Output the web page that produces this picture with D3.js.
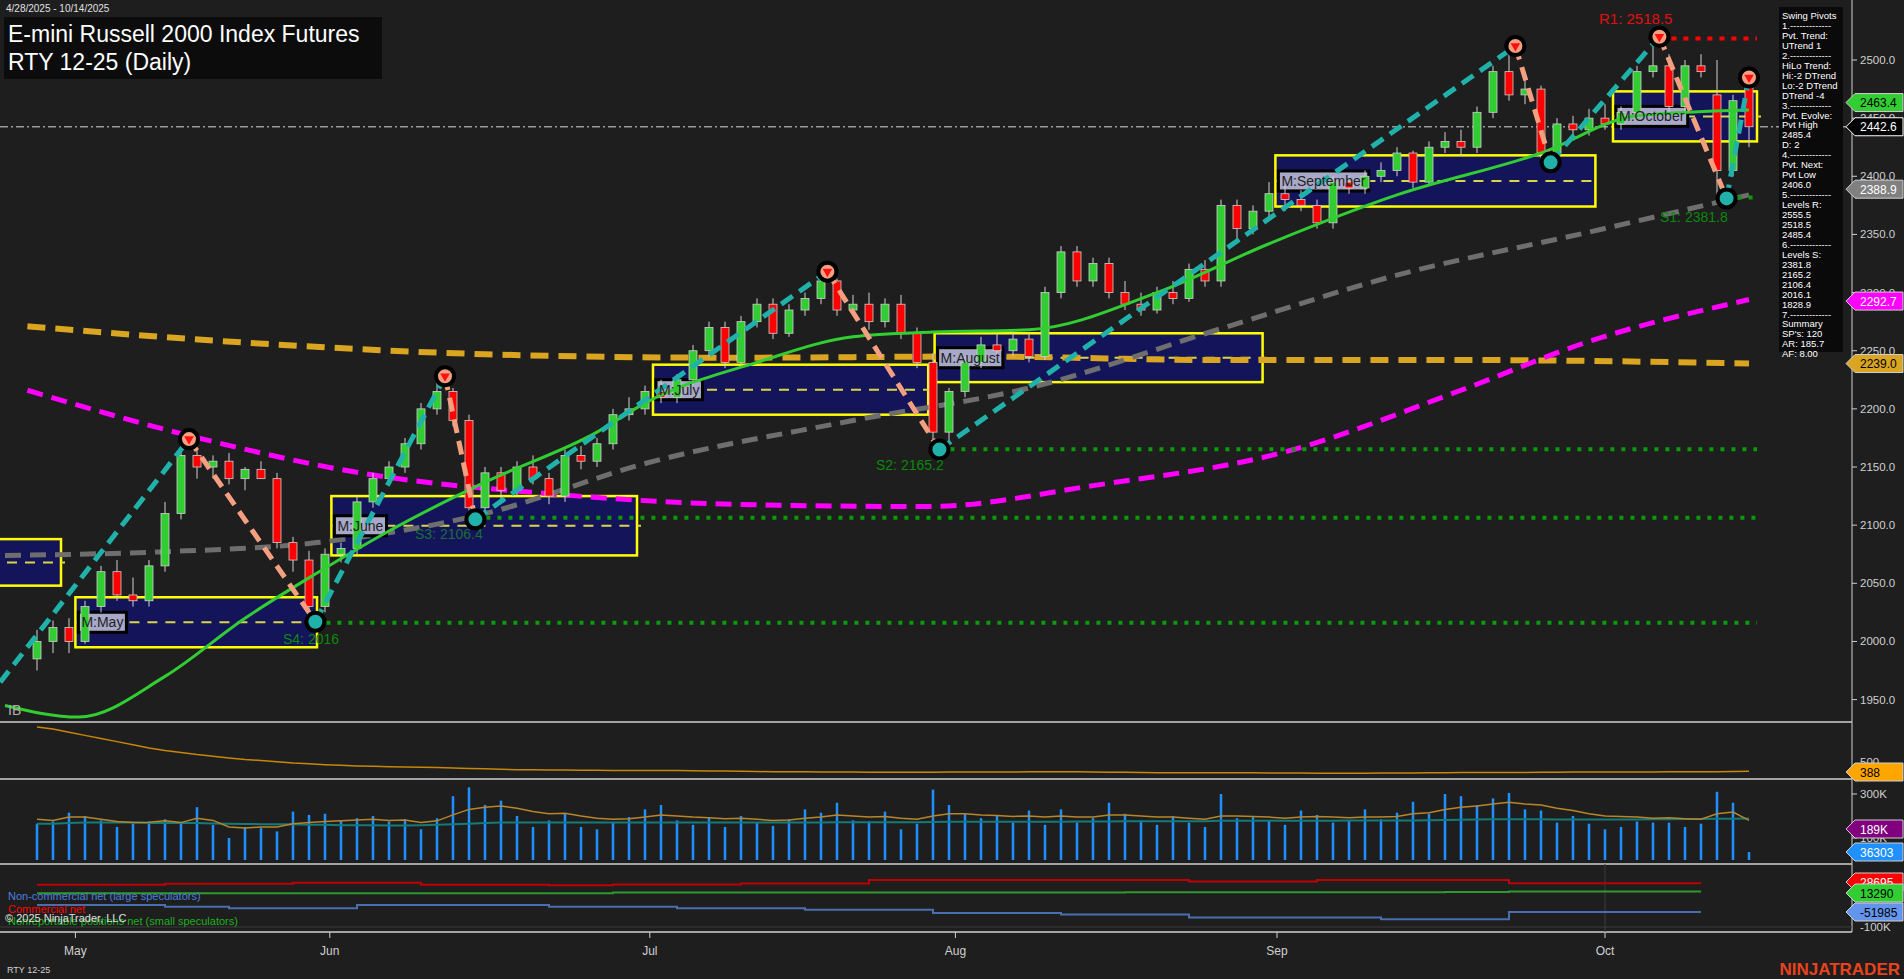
<!DOCTYPE html>
<html><head><meta charset="utf-8">
<script src="https://cdn.jsdelivr.net/npm/d3@7/dist/d3.min.js"></script>
<style>body{margin:0;background:#1e1e1e;overflow:hidden}svg{display:block}text{font-family:Arial,"Liberation Sans",sans-serif}</style>
</head><body><svg id="c" width="1904" height="979"></svg>
<script>
// ---------- DATA ----------
const opens =[1985,2000,2012,2000,2030,2060,2040,2035,2065,2110,2160,2150,2155,2140,2148,2140,2085,2070,2030,2075,2080,2120,2140,2150,2170,2200,2215,2190,2115,2145,2130,2150,2140,2125,2160,2155,2170,2195,2200,2215,2210,2225,2250,2270,2240,2275,2290,2265,2285,2295,2310,2285,2290,2275,2290,2265,2240,2180,2215,2240,2255,2250,2260,2245,2300,2335,2310,2325,2300,2290,2285,2300,2295,2320,2310,2375,2355,2370,2385,2380,2375,2360,2395,2390,2400,2405,2420,2395,2425,2430,2425,2455,2490,2470,2475,2420,2445,2440,2450,2445,2455,2490,2495,2460,2495,2470,2405,2485];
const highs =[2010,2018,2020,2035,2065,2070,2055,2070,2120,2174,2165,2160,2162,2150,2155,2145,2090,2078,2080,2085,2125,2145,2155,2175,2205,2228,2218,2195,2150,2150,2155,2160,2145,2165,2168,2175,2200,2210,2220,2225,2230,2255,2275,2275,2280,2295,2295,2290,2300,2318,2312,2298,2300,2295,2298,2270,2248,2218,2245,2262,2265,2268,2265,2305,2340,2340,2330,2330,2310,2300,2305,2310,2325,2328,2380,2380,2375,2395,2392,2388,2380,2400,2400,2405,2412,2425,2422,2430,2438,2440,2460,2495,2512,2488,2478,2450,2452,2458,2462,2460,2495,2520,2505,2500,2505,2500,2470,2485];
const lows  =[1975,1990,1990,1998,2025,2035,2030,2030,2060,2105,2140,2140,2135,2130,2140,2080,2060,2017,2025,2068,2075,2115,2135,2145,2165,2195,2185,2105,2110,2120,2125,2135,2118,2120,2148,2150,2165,2190,2195,2205,2205,2220,2245,2235,2238,2270,2260,2262,2280,2290,2280,2280,2268,2270,2260,2235,2165,2170,2210,2235,2245,2245,2240,2242,2295,2305,2305,2295,2285,2280,2282,2290,2292,2305,2305,2345,2350,2365,2370,2370,2355,2355,2385,2385,2395,2400,2390,2392,2420,2418,2420,2450,2465,2462,2412,2415,2432,2435,2440,2440,2450,2485,2455,2455,2485,2381,2400,2425];
const closes=[2000,2012,2000,2030,2060,2040,2035,2065,2110,2160,2150,2155,2140,2148,2140,2085,2070,2030,2075,2080,2120,2140,2150,2170,2200,2215,2190,2115,2145,2130,2150,2140,2125,2160,2155,2170,2195,2200,2215,2210,2225,2250,2270,2240,2275,2290,2265,2285,2295,2310,2285,2290,2275,2290,2265,2240,2180,2215,2240,2255,2250,2260,2245,2300,2335,2310,2325,2300,2290,2285,2300,2295,2320,2310,2375,2355,2370,2385,2380,2375,2360,2395,2390,2400,2405,2420,2395,2425,2430,2425,2455,2490,2470,2475,2420,2445,2440,2450,2445,2455,2490,2495,2460,2495,2490,2405,2465,2442.6];
const volumes=[165,175,215,200,180,150,165,175,185,170,240,160,100,150,145,130,220,205,210,180,190,200,175,185,140,190,290,330,250,270,200,150,180,210,150,140,170,195,230,250,180,160,195,150,200,170,155,185,230,215,260,180,175,220,140,165,320,250,210,190,200,170,225,160,230,170,190,260,210,180,160,200,170,150,300,190,195,180,160,225,205,170,180,230,185,215,265,210,300,290,250,280,305,230,225,170,200,165,140,150,175,170,170,150,165,310,260,36];
const volAvg=[185,180,195,195,185,175,170,172,178,170,190,180,150,145,150,150,165,170,175,178,182,185,180,182,170,178,205,230,240,245,235,220,210,212,200,190,185,188,195,205,200,195,192,188,190,185,180,182,190,195,205,200,195,198,190,185,200,210,210,205,202,198,200,195,200,195,195,205,205,200,195,195,190,185,200,200,198,195,190,195,198,195,192,195,195,198,210,215,230,240,245,255,262,255,250,235,225,210,200,198,195,190,192,188,185,210,218,180];
const volLong=[165,165,168,170,170,170,170,168,168,168,168,166,165,164,163,162,162,160,160,158,158,158,157,157,158,160,162,165,168,170,171,171,171,171,171,171,170,170,170,170,170,170,170,170,170,170,170,170,170,170,172,172,172,172,172,172,173,174,174,174,174,174,174,174,174,175,175,175,176,176,176,176,176,176,178,178,178,178,178,178,178,178,179,180,180,180,180,181,182,183,184,185,185,185,185,184,184,184,184,184,184,185,185,186,186,187,188,189];
const atr=[600,590,575,560,545,530,515,500,488,478,468,460,452,445,440,434,428,424,420,417,414,412,410,409,408,406,404,402,400,398,396,395,394,394,393,393,392,392,392,392,392,391,390,389,388,387,386,386,386,385,385,385,384,384,384,384,384,385,385,385,385,385,386,386,386,386,385,384,383,382,381,381,381,381,381,381,381,380,380,380,379,379,379,379,380,380,380,381,381,382,382,382,382,382,383,384,385,385,385,385,385,385,386,386,386,386,387,388];
const cotIdx=[0,4,8,12,16,20,24,28,32,36,40,44,48,52,56,60,64,68,72,76,80,84,88,92,96,100,104];
const cotComm=[35,35,38,38,41,41,35,35,33,36,36,39,39,50,50,50,50,50,45,45,50,50,50,40,40,40,40];
const cotLarge=[-30,-30,-35,-40,-40,-30,-30,-30,-35,-35,-40,-40,-45,-45,-55,-55,-60,-60,-70,-70,-70,-75,-75,-52,-52,-52,-52];
const cotSmall=[8,8,8,8,8,8,8,8,8,10,10,10,10,10,10,10,10,11,11,11,11,11,12,13,13,13,13];
const maGreen=[[-2,1945],[2.6,1935],[8,1970],[13,2020],[17.4,2058],[22,2095],[28,2137],[35,2180],[38,2205],[45,2240],[51,2262],[56,2266],[62,2268],[70,2300],[77,2342],[85,2384],[94,2420],[100,2452],[107,2457]];
const maGray=[[-2,2074],[7.6,2077],[17.5,2085],[28,2110],[38,2153],[51,2190],[62,2218],[74,2269],[85,2315],[97,2352],[107,2384]];
const maMag=[[-0.6,2216],[9.5,2177],[20.6,2144],[32,2127],[43.4,2118],[55.7,2116],[66,2134],[78,2163],[89,2216],[97,2258],[107,2294]];
const maOrange=[[-0.6,2271],[13,2257],[28,2247],[43.4,2244],[58.7,2245],[74,2242],[89,2242],[107,2239]];
const pivots=[[-2.3,1965],[9.5,2174],[17.4,2017],[25.5,2228],[27.4,2105],[49.4,2318],[56.4,2165],[92.4,2512],[94.6,2412],[101.4,2520],[105.6,2381],[107,2485]];
const boxes=[{n:"",a:-3,b:1.5,lo:2048,hi:2088},{n:"M:May",a:2.4,b:17.5,lo:1995,hi:2038},{n:"M:June",a:18.4,b:37.5,lo:2074,hi:2125},{n:"M:July",a:38.5,b:55.7,lo:2195,hi:2238},{n:"M:August",a:56.1,b:76.6,lo:2223,hi:2265},{n:"M:September",a:77.4,b:97.4,lo:2374,hi:2418},{n:"M:October",a:98.5,b:107.5,lo:2430,hi:2473}];
const levels=[{t:"S4: 2016",v:2016.1,a:17.4,lx:283,ly:644,c:"#0a8a0a"},{t:"S3: 2106.4",v:2106.4,a:27.4,lx:415,ly:539,c:"#1a6e3a"},{t:"S2: 2165.2",v:2165.2,a:56.4,lx:876,ly:470,c:"#0a8a0a"},{t:"S1: 2381.8",v:2381.8,a:105.6,lx:1660,ly:222,c:"#0a8a0a"}];
const monthLabels=["May","Jun","Jul","Aug","Sep","Oct"];
const monthIdx=[2.4,18.3,38.3,57.4,77.5,98];
const priceTicks=[1950,2000,2050,2100,2150,2200,2250,2300,2350,2400,2450,2500];
const infoLines=["Swing Pivots","1.-------------","Pvt. Trend:","UTrend 1","2.-------------","HiLo Trend:","Hi:-2 DTrend","Lo:-2 DTrend","DTrend -4","3.-------------","Pvt. Evolve:","Pvt High","2485.4","D: 2","4.-------------","Pvt. Next:","Pvt Low","2406.0","5.-------------","Levels R:","2555.5","2518.5","2485.4","6.-------------","Levels S:","2381.8","2165.2","2106.4","2016.1","1828.9","7.-------------","Summary","SP's: 120","AR: 185.7","AF: 8.00"];
const priceTags=[{v:2463.4,t:"2463.4",bg:"#32cd32",fg:"#000"},{v:2442.6,t:"2442.6",bg:"#000",fg:"#fff",st:"#fff"},{v:2388.9,t:"2388.9",bg:"#808080",fg:"#fff"},{v:2292.7,t:"2292.7",bg:"#ff00ff",fg:"#fff"},{v:2239.0,t:"2239.0",bg:"#daa520",fg:"#000"}];

// ---------- SCALES ----------
const svg=d3.select("#c");
const N=closes.length;
const AX=1852;
const x=d3.scaleLinear().domain([0,N-1]).range([37,1749]);
const y=d3.scaleLinear().domain([1950,2500]).range([699.6,60]);
svg.append("rect").attr("width",1904).attr("height",979).attr("fill","#1e1e1e");
svg.append("clipPath").attr("id","cm").append("rect").attr("x",0).attr("y",0).attr("width",AX).attr("height",722);
const g=svg.append("g").attr("clip-path","url(#cm)");

g.append("line").attr("x1",0).attr("x2",AX).attr("y1",y(2442.6)).attr("y2",y(2442.6)).attr("stroke","#9a9a9a").attr("stroke-width",1.5).attr("stroke-dasharray","8,3,2,3");

boxes.forEach(b=>{
  g.append("rect").attr("x",x(b.a)).attr("y",y(b.hi)).attr("width",x(b.b)-x(b.a)).attr("height",y(b.lo)-y(b.hi)).attr("fill","#14145a").attr("stroke","#ffff00").attr("stroke-width",2.5);
  g.append("line").attr("x1",x(b.a)).attr("x2",x(b.b)+4).attr("y1",y((b.lo+b.hi)/2)).attr("y2",y((b.lo+b.hi)/2)).attr("stroke","#d6d64a").attr("stroke-width",2).attr("stroke-dasharray","10,8");
});

const line=d3.line().x(d=>x(d[0])).y(d=>y(d[1])).curve(d3.curveMonotoneX);
g.append("path").attr("d",line(maOrange)).attr("fill","none").attr("stroke","#daa520").attr("stroke-width",6).attr("stroke-dasharray","18,10");
g.append("path").attr("d",line(maMag)).attr("fill","none").attr("stroke","#ff00ff").attr("stroke-width",5).attr("stroke-dasharray","16,9");
g.append("path").attr("d",line(maGray)).attr("fill","none").attr("stroke","#6e6e6e").attr("stroke-width",5).attr("stroke-dasharray","16,9");

levels.forEach(l=>{
  g.append("line").attr("x1",x(l.a)).attr("x2",1757).attr("y1",y(l.v)).attr("y2",y(l.v)).attr("stroke","#0a9a0a").attr("stroke-width",4).attr("stroke-dasharray","4,7");
  g.append("text").attr("x",l.lx).attr("y",l.ly).attr("fill",l.c).attr("font-size",14).text(l.t);
});
g.append("line").attr("x1",x(101.4)).attr("x2",1757).attr("y1",y(2518.5)).attr("y2",y(2518.5)).attr("stroke","#ff0000").attr("stroke-width",4).attr("stroke-dasharray","5,7");
g.append("text").attr("x",1599).attr("y",24).attr("fill","#e01010").attr("font-size",15).text("R1: 2518.5");

const cw=8;
for(let i=0;i<N;i++){
  const up=closes[i]>=opens[i];
  g.append("line").attr("x1",x(i)).attr("x2",x(i)).attr("y1",y(highs[i])).attr("y2",y(lows[i])).attr("stroke","#d0d0d0").attr("stroke-width",1);
  const t=y(Math.max(opens[i],closes[i])),b=y(Math.min(opens[i],closes[i]));
  g.append("rect").attr("x",x(i)-cw/2).attr("y",t).attr("width",cw).attr("height",Math.max(1.5,b-t)).attr("fill",up?"#32cd32":"#ff0000").attr("stroke","#cfcfcf").attr("stroke-width",0.8);
}
g.append("path").attr("d",line(maGreen)).attr("fill","none").attr("stroke","#32cd32").attr("stroke-width",3);

for(let k=0;k<pivots.length-1;k++){
  const a=pivots[k],b=pivots[k+1];
  const upLeg=b[1]>a[1];
  g.append("line").attr("x1",x(a[0])).attr("y1",y(a[1])).attr("x2",x(b[0])).attr("y2",y(b[1])).attr("stroke",upLeg?"#20b2aa":"#f4a080").attr("stroke-width",5).attr("stroke-dasharray","14,8");
}
pivots.slice(1).forEach((p,k)=>{
  const hi=k%2===0;
  g.append("circle").attr("cx",x(p[0])).attr("cy",y(p[1])).attr("r",9).attr("fill",hi?"#f4a080":"#20b2aa").attr("stroke","#000").attr("stroke-width",4);
  if(hi) g.append("path").attr("d",d3.symbol(d3.symbolTriangle,40)()).attr("transform",`translate(${x(p[0])},${y(p[1])}) rotate(180)`).attr("fill","#ff1010");
});

boxes.forEach(b=>{ if(!b.n) return;
  const tx=g.append("text").attr("x",x(b.a)+6).attr("y",y((b.lo+b.hi)/2)+5).attr("font-family","Courier New, Liberation Mono, monospace").attr("font-size",14).attr("fill","#222").text(b.n);
  const bb=tx.node().getBBox();
  g.insert("rect","text").attr("x",bb.x-3).attr("y",bb.y-2).attr("width",bb.width+6).attr("height",bb.height+4).attr("fill","#a8a8c8").attr("stroke","#000").attr("stroke-width",3);
});
g.selectAll("text").raise();
g.append("text").attr("x",8).attr("y",715).attr("fill","#b0b0b0").attr("font-size",14).text("IB");

// ---------- right axis ----------
svg.append("line").attr("x1",AX).attr("x2",AX).attr("y1",0).attr("y2",932).attr("stroke","#d0d0d0");
priceTicks.forEach(p=>{
  svg.append("line").attr("x1",AX).attr("x2",AX+5).attr("y1",y(p)).attr("y2",y(p)).attr("stroke","#d0d0d0");
  svg.append("text").attr("x",AX+8).attr("y",y(p)+4).attr("fill","#d0d0d0").attr("font-size",11.5).text(p.toFixed(1));
});
function tag(yy,t,bg,fg,st){
  svg.append("path").attr("d",`M${AX-6},${yy} L${AX+3},${yy-9} L1903,${yy-9} L1903,${yy+9} L${AX+3},${yy+9} Z`).attr("fill",bg).attr("stroke",st||"#cfcfcf").attr("stroke-width",1);
  svg.append("text").attr("x",AX+8).attr("y",yy+4.5).attr("fill",fg).attr("font-size",12).text(t);
}
priceTags.forEach(p=>tag(y(p.v),p.t,p.bg,p.fg,p.st));

svg.append("rect").attr("x",1779).attr("y",7).attr("width",64).attr("height",345).attr("fill","#0a0a0a");
infoLines.forEach((t,k)=>svg.append("text").attr("x",1782).attr("y",19+k*9.95).attr("fill","#ffffff").attr("font-size",9.5).text(t));

svg.append("text").attr("x",6).attr("y",12).attr("fill","#e0e0e0").attr("font-size",10).text("4/28/2025 - 10/14/2025");
svg.append("rect").attr("x",4).attr("y",17).attr("width",378).attr("height",62).attr("fill","#0c0c0c");
svg.append("text").attr("x",8).attr("y",42).attr("fill","#fff").attr("font-size",23).text("E-mini Russell 2000 Index Futures");
svg.append("text").attr("x",8).attr("y",70).attr("fill","#fff").attr("font-size",23).text("RTY 12-25 (Daily)");

[722,779,864,932].forEach(v=>svg.append("line").attr("x1",0).attr("x2",AX).attr("y1",v).attr("y2",v).attr("stroke","#d0d0d0").attr("stroke-width",1.5));

const ya=d3.scaleLinear().domain([380,600]).range([773,727]);
const lp=d3.line().x((d,i)=>x(i)).y(d=>ya(d));
svg.append("path").attr("d",lp(atr)).attr("fill","none").attr("stroke","#c8860a").attr("stroke-width",1.5);
svg.append("text").attr("x",AX+8).attr("y",766).attr("fill","#d0d0d0").attr("font-size",11.5).text("500");
tag(772,"388","#ffa500","#000");

const yv=d3.scaleLinear().domain([0,300]).range([860,794]);
volumes.forEach((v,i)=>svg.append("line").attr("x1",x(i)).attr("x2",x(i)).attr("y1",yv(0)).attr("y2",yv(v)).attr("stroke","#1e90ff").attr("stroke-width",2.5));
svg.append("path").attr("d",lp.y(d=>yv(d))(volLong)).attr("fill","none").attr("stroke","#157a7a").attr("stroke-width",2);
svg.append("path").attr("d",lp.y(d=>yv(d))(volAvg)).attr("fill","none").attr("stroke","#b8862a").attr("stroke-width",1.5);
[[300,"300K"],[100,"100K"]].forEach(t=>{svg.append("line").attr("x1",AX).attr("x2",AX+5).attr("y1",yv(t[0])).attr("y2",yv(t[0])).attr("stroke","#d0d0d0");svg.append("text").attr("x",AX+8).attr("y",yv(t[0])+4).attr("fill","#d0d0d0").attr("font-size",11.5).text(t[1]);});
tag(829,"189K","#800080","#fff");
tag(852,"36303","#1e90ff","#fff");

const yc=d3.scaleLinear().domain([-100,50]).range([927,880]);
const lc=d3.line().x((d,i)=>x(cotIdx[i])).y(d=>yc(d)).curve(d3.curveStepAfter);
svg.append("line").attr("x1",x(98)).attr("x2",x(98)).attr("y1",864).attr("y2",932).attr("stroke","#3a3a3a");
svg.append("line").attr("x1",0).attr("x2",AX).attr("y1",yc(-100)).attr("y2",yc(-100)).attr("stroke","#3a3a3a");
svg.append("path").attr("d",lc(cotComm)).attr("fill","none").attr("stroke","#c00000").attr("stroke-width",2);
svg.append("path").attr("d",lc(cotSmall)).attr("fill","none").attr("stroke","#2e9a2e").attr("stroke-width",2);
svg.append("path").attr("d",lc(cotLarge)).attr("fill","none").attr("stroke","#4a6fb0").attr("stroke-width",2);
tag(882,"28695","#ff0000","#fff");
tag(893,"13290","#32cd32","#000");
tag(912,"-51985","#6495ed","#000");
svg.append("text").attr("x",AX+8).attr("y",931).attr("fill","#d0d0d0").attr("font-size",11.5).text("-100K");
svg.append("text").attr("x",8).attr("y",900).attr("fill","#4a7fe0").attr("font-size",11).text("Non-commercial net (large speculators)");
svg.append("text").attr("x",8).attr("y",913).attr("fill","#ff0000").attr("font-size",11).text("Commercial net");
svg.append("text").attr("x",8).attr("y",925).attr("fill","#20b020").attr("font-size",11).text("Nonreportable positions net (small speculators)");
svg.append("text").attr("x",5).attr("y",922).attr("fill","#e0e0e0").attr("font-size",11).text("© 2025 NinjaTrader, LLC");

monthIdx.forEach((m,k)=>{
  svg.append("line").attr("x1",x(m)).attr("x2",x(m)).attr("y1",932).attr("y2",938).attr("stroke","#d0d0d0");
  svg.append("text").attr("x",x(m)).attr("y",955).attr("text-anchor","middle").attr("fill","#d0d0d0").attr("font-size",12).text(monthLabels[k]);
});
svg.append("text").attr("x",7).attr("y",973).attr("fill","#d0d0d0").attr("font-size",9).text("RTY 12-25");
svg.append("text").attr("x",1900).attr("y",975).attr("text-anchor","end").attr("fill","#e8431e").attr("font-size",17).attr("font-weight","bold").text("NINJATRADER");
</script></body></html>
